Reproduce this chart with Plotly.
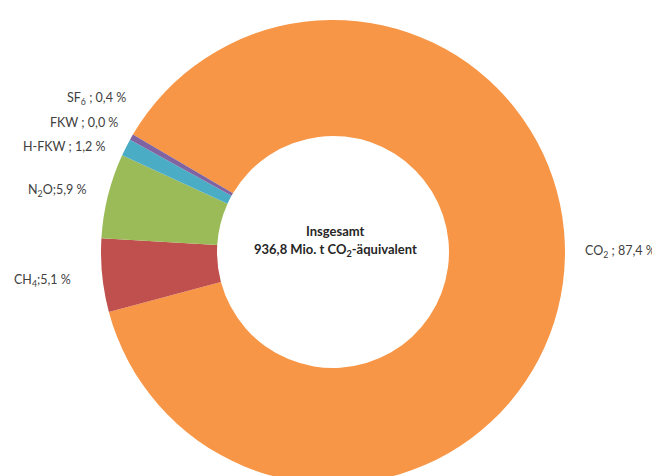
import plotly.graph_objects as go

gases = ["CO<sub>2</sub>", "CH<sub>4</sub>", "N<sub>2</sub>O", "H-FKW", "FKW", "SF<sub>6</sub>"]
shares = [87.4, 5.1, 5.9, 1.2, 0.0, 0.4]
colors = ["#F79646", "#C0504D", "#9BBB59", "#4BACC6", "#4F81BD", "#8064A2"]
label_texts = ["CO<sub>2</sub> ; 87,4 %", "CH<sub>4</sub>;5,1 %", "N<sub>2</sub>O;5,9 %",
               "H-FKW ; 1,2 %", "FKW ; 0,0 %", "SF<sub>6</sub> ; 0,4 %"]
center_title = "Insgesamt"
center_sub = "936,8 Mio. t CO<sub>2</sub>-äquivalent"

W, H = 660, 476
OFF = 8  # page offset of the figure in the browser
cx, R = 333 - OFF, 232

fig = go.Figure(go.Pie(
    labels=gases, values=shares, marker=dict(colors=colors, line=dict(width=0)),
    hole=0.5, sort=False, direction="clockwise", rotation=300.4,
    textinfo="none", hoverinfo="label+percent", showlegend=False,
    domain=dict(x=[(cx - R) / W, (cx + R) / W], y=[0, min(1, 2 * R / H)]),
))

# label positions (pixel coords in the reference), anchors
label_pos = [(583, 252, "left"), (73, 280, "right"), (88, 190, "right"),
             (108, 146, "right"), (120, 122, "right"), (128, 98, "right")]
font = dict(family="Lato, Open Sans, sans-serif", size=12.5, color="#404040")
anns = []
for txt, (x, y, a) in zip(label_texts, label_pos):
    anns.append(dict(x=(x - OFF) / W, y=1 - (y - OFF) / H, xref="paper", yref="paper", text=txt,
                     showarrow=False, xanchor=a, yanchor="middle", font=font))
cfont = dict(family="Lato, Open Sans, sans-serif", size=13, color="#262626")
anns.append(dict(x=(335 - OFF) / W, y=1 - (231 - OFF) / H, xref="paper", yref="paper",
                 text="<b>" + center_title + "</b>", showarrow=False,
                 xanchor="center", yanchor="middle", font=cfont))
anns.append(dict(x=(335 - OFF) / W, y=1 - (250 - OFF) / H, xref="paper", yref="paper",
                 text="<b>" + center_sub + "</b>", showarrow=False,
                 xanchor="center", yanchor="middle", font=cfont))

fig.update_layout(width=W, height=H, margin=dict(l=0, r=0, t=0, b=0),
                  paper_bgcolor="white", plot_bgcolor="white", annotations=anns)
fig.write_html("out.html")
